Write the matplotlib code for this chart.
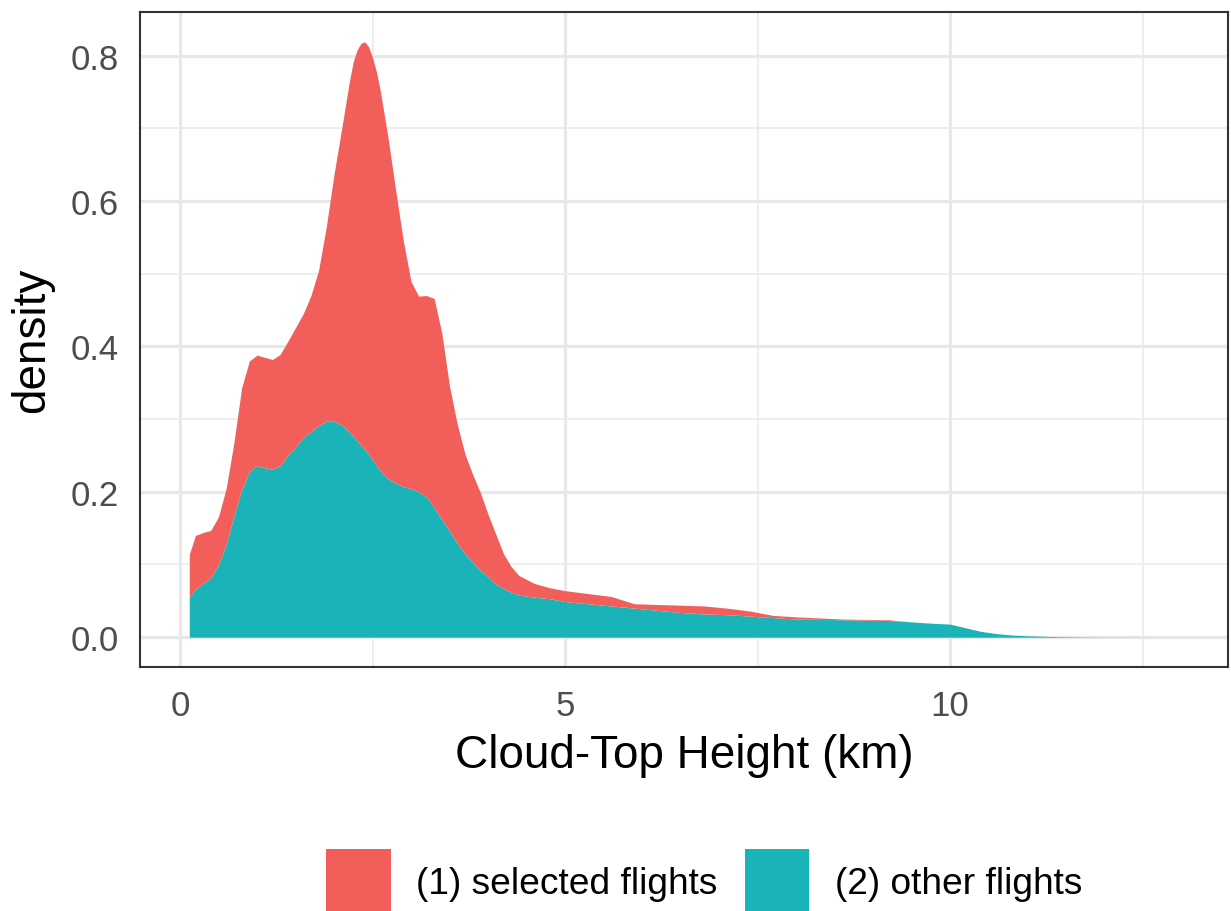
import matplotlib
matplotlib.use("Agg")
import matplotlib.pyplot as plt
from matplotlib.patches import Patch
import numpy as np

plt.rcParams["font.family"] = ["Liberation Sans", "DejaVu Sans"]

# cloud-top height grid (km)
height_km = [
    0.12, 0.2, 0.3, 0.4, 0.5, 0.6, 0.7, 0.8, 0.9, 1.0,
    1.1, 1.2, 1.3, 1.4, 1.5, 1.6, 1.7, 1.8, 1.9, 2.0,
    2.1, 2.2, 2.25, 2.3, 2.35, 2.4, 2.45, 2.5, 2.55, 2.6,
    2.7, 2.8, 2.9, 3.0, 3.1, 3.2, 3.3, 3.4, 3.5, 3.6,
    3.7, 3.8, 3.9, 4.0, 4.1, 4.2, 4.3, 4.4, 4.6, 4.8,
    5.0, 5.3, 5.6, 5.9, 6.2, 6.5, 6.8, 7.1, 7.4, 7.7,
    8.0, 8.3, 8.6, 8.9, 9.2, 9.5, 9.8, 10.0, 10.2, 10.4,
    10.6, 10.8, 11.0, 11.3, 11.6, 12.0, 12.5, 12.95,
]

# density of the "other flights" group (bottom layer)
other_density = [
    0.055, 0.066, 0.074, 0.082, 0.100, 0.128, 0.167, 0.203, 0.228, 0.236,
    0.233, 0.231, 0.236, 0.250, 0.262, 0.274, 0.283, 0.291, 0.297, 0.297,
    0.292, 0.282, 0.276, 0.270, 0.264, 0.258, 0.251, 0.244, 0.236, 0.229,
    0.218, 0.212, 0.207, 0.204, 0.200, 0.193, 0.178, 0.162, 0.146, 0.129,
    0.115, 0.103, 0.092, 0.083, 0.073, 0.067, 0.062, 0.058, 0.055, 0.053,
    0.049, 0.046, 0.043, 0.040, 0.037, 0.034, 0.032, 0.031, 0.029, 0.027,
    0.025, 0.0245, 0.024, 0.0235, 0.023, 0.021, 0.019, 0.018, 0.013, 0.008,
    0.005, 0.003, 0.002, 0.001, 0.0005, 0.0002, 0.0001, 0.0,
]

# density of the "selected flights" group (stacked on top)
selected_density = [
    0.059, 0.074, 0.070, 0.065, 0.066, 0.077, 0.101, 0.140, 0.152, 0.152,
    0.152, 0.151, 0.153, 0.157, 0.164, 0.171, 0.187, 0.214, 0.268, 0.340,
    0.408, 0.483, 0.516, 0.538, 0.553, 0.561, 0.561, 0.553, 0.542, 0.523,
    0.470, 0.403, 0.338, 0.285, 0.269, 0.277, 0.288, 0.256, 0.199, 0.164,
    0.137, 0.121, 0.107, 0.086, 0.069, 0.048, 0.035, 0.027, 0.019, 0.015,
    0.015, 0.014, 0.013, 0.006, 0.008, 0.010, 0.011, 0.009, 0.007, 0.003,
    0.003, 0.002, 0.001, 0.001, 0.001, 0.0, 0.0, 0.0, 0.0, 0.0,
    0.0, 0.0, 0.0, 0.0, 0.0, 0.0, 0.0, 0.0,
]

group_labels = ["(1) selected flights", "(2) other flights"]
group_colors = ["#F25F5B", "#1AB3B7"]

x = np.asarray(height_km)
other = np.asarray(other_density)
stacked_top = other + np.asarray(selected_density)

fig = plt.figure(figsize=(12.31, 9.12), dpi=100)
ax = fig.add_axes([140 / 1231, 1 - 668 / 912, (1228 - 140) / 1231, (668 - 13) / 912])

ax.fill_between(x, 0, other, color=group_colors[1], lw=0, zorder=2)
ax.fill_between(x, other, stacked_top, color=group_colors[0], lw=0, zorder=2)

ax.set_xlim(-0.52, 13.61)
ax.set_ylim(-0.041, 0.860)

ax.set_xticks([0, 5, 10])
ax.set_xticks([2.5, 7.5, 12.5], minor=True)
ax.set_yticks([0.0, 0.2, 0.4, 0.6, 0.8])
ax.set_yticks([0.1, 0.3, 0.5, 0.7], minor=True)
ax.set_yticklabels(["0.0", "0.2", "0.4", "0.6", "0.8"])

ax.grid(which="major", color="#E8E8E8", lw=2.3, zorder=0)
ax.grid(which="minor", color="#EBEBEB", lw=1.2, zorder=0)
ax.set_axisbelow(True)

ax.tick_params(which="both", length=0, labelsize=25, labelcolor="#4D4D4D")
ax.tick_params(axis="y", pad=15)
ax.tick_params(axis="x", pad=16)

for spine in ax.spines.values():
    spine.set_color("#333333")
    spine.set_linewidth(1.5)

ax.set_xlabel("Cloud-Top Height (km)", fontsize=33, labelpad=8)
ax.set_ylabel("density", fontsize=33, labelpad=12)

# square keys, bottom row runs off the lower edge of the figure
handles = [Patch(facecolor=c, edgecolor="none") for c in group_colors]
fig.legend(
    handles, group_labels,
    loc="upper center", bbox_to_anchor=(704 / 1231, 1 - 850 / 912),
    ncol=2, frameon=False, fontsize=26.7,
    handlelength=1.75, handleheight=2.3, handletextpad=0.68,
    columnspacing=0.73, borderpad=0, borderaxespad=0,
)

fig.savefig("out.png", dpi=100)
